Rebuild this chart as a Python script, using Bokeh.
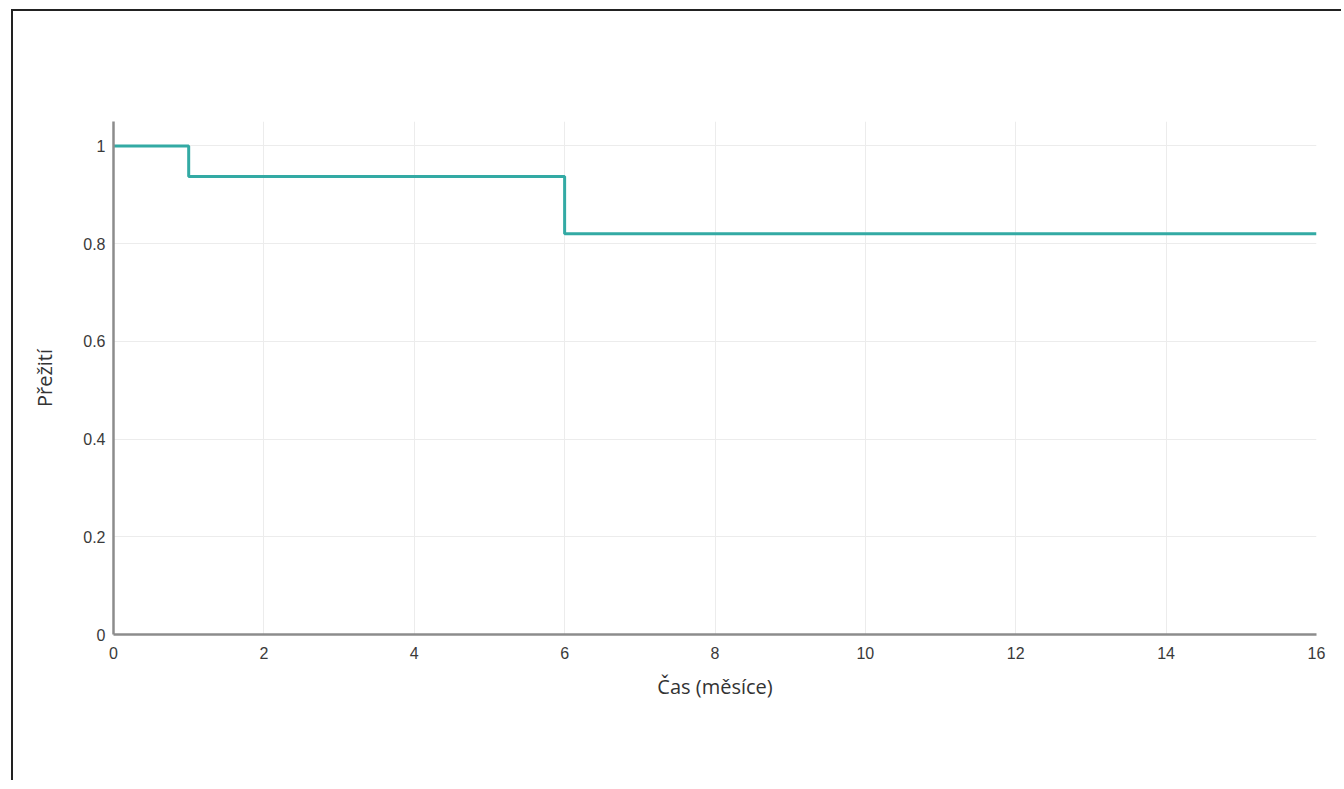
from bokeh.plotting import figure
from bokeh.models import Range1d, FixedTicker, NumeralTickFormatter
from bokeh.embed import file_html
from bokeh.resources import INLINE

# Data (Kaplan-Meier style step curve)
time_months = [0, 1, 6, 16]
survival = [1.0, 0.9375, 0.82, 0.82]
x_ticks = [0, 2, 4, 6, 8, 10, 12, 14, 16]
y_ticks = [0, 0.2, 0.4, 0.6, 0.8, 1.0]
x_label = "Čas (měsíce)"
y_label = "Přežití"

p = figure(width=1330, height=771, output_backend="svg", toolbar_location=None,
           x_range=Range1d(0, 16), y_range=Range1d(0, 1.05),
           min_border_left=100, min_border_right=27, min_border_top=110,
           min_border_bottom=148, background_fill_color="white",
           border_fill_color="white")
p.margin = (9, 0, 0, 11)
p.styles = {"border-top": "2px solid #222222", "border-left": "2px solid #222222"}
p.outline_line_color = None

p.step(time_months, survival, mode="after", line_color="#33aaa4", line_width=3)

p.xaxis.ticker = FixedTicker(ticks=x_ticks)
p.yaxis.ticker = FixedTicker(ticks=y_ticks)
p.yaxis.formatter = NumeralTickFormatter(format="0.[0]")
p.xaxis.axis_label = x_label
p.yaxis.axis_label = y_label

for ax in (p.xaxis[0], p.yaxis[0]):
    ax.axis_line_color = "#8c8c8c"
    ax.axis_line_width = 2.5
    ax.major_tick_line_color = None
    ax.minor_tick_line_color = None
    ax.major_label_text_font = "Liberation Sans"
    ax.major_label_text_font_size = "16px"
    ax.major_label_text_color = "#3a3a3a"
    ax.axis_label_text_font = "Open Sans"
    ax.axis_label_text_font_size = "20px"
    ax.axis_label_text_font_style = "normal"
    ax.axis_label_text_color = "#333333"

p.xaxis.major_label_standoff = 6
p.yaxis.major_label_standoff = 2
p.xaxis.axis_label_standoff = 11
p.yaxis.axis_label_standoff = 22

p.xgrid.grid_line_color = "#ececec"
p.ygrid.grid_line_color = "#ececec"
p.xgrid.grid_line_width = 1
p.ygrid.grid_line_width = 1

open("out.html", "w").write(file_html(p, INLINE))
